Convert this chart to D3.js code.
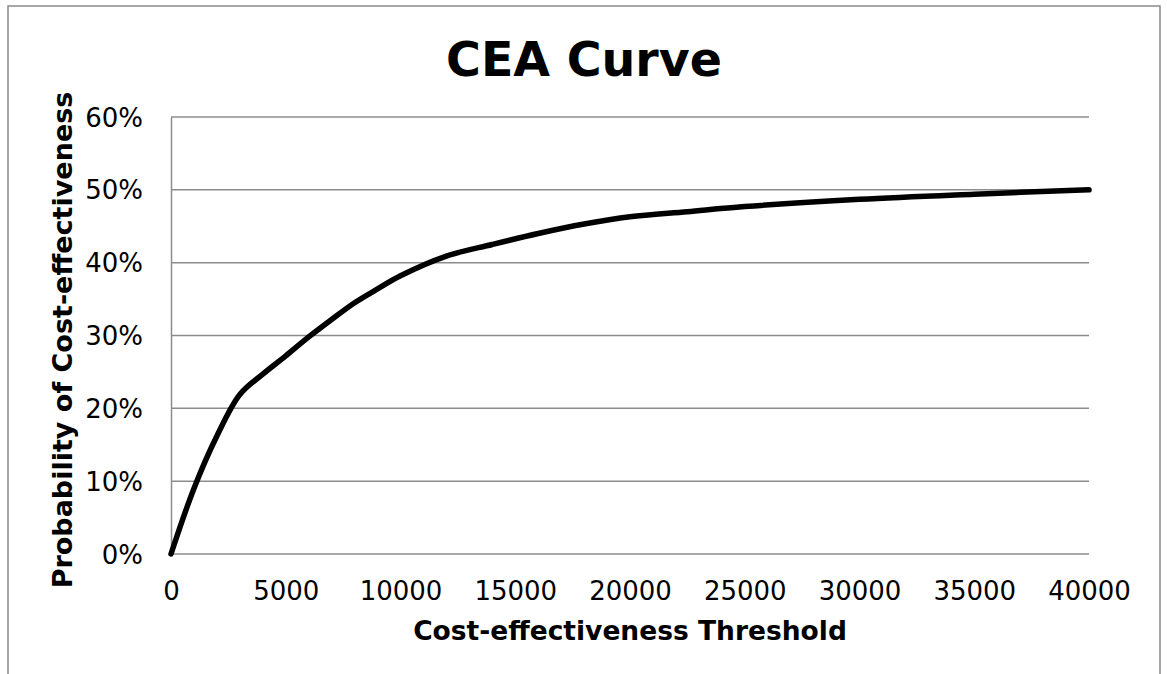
<!DOCTYPE html>
<html>
<head>
<meta charset="utf-8">
<script src="https://cdn.jsdelivr.net/npm/d3@7"></script>
<style>
  body { margin: 0; background: #fff; }
  text { font-family: "DejaVu Sans", Verdana, sans-serif; fill: #000; }
</style>
</head>
<body>
<script>
// threshold values (x) and probability of cost-effectiveness (y, %)
var thresholds = [0, 1000, 2000, 3000, 4000, 5000, 6000, 7000, 8000, 9000, 10000,
                  12000, 14000, 16000, 18000, 20000, 22500, 25000, 30000, 35000, 40000];
var probs = [0, 9.0, 16.2, 21.9, 24.7, 27.2, 29.8, 32.2, 34.5, 36.4, 38.2,
             40.9, 42.5, 44.0, 45.3, 46.3, 47.0, 47.7, 48.7, 49.4, 50.0];
var xTicks = [0, 5000, 10000, 15000, 20000, 25000, 30000, 35000, 40000];
var yTicks = [0, 10, 20, 30, 40, 50, 60];

var W = 1167, H = 674,
    margin = {top: 117, right: 78, bottom: 120, left: 171},
    width = 1089 - margin.left,
    height = 554 - margin.top;

var svg = d3.select("body").append("svg")
    .attr("width", W)
    .attr("height", H);

// outer chart border (bottom runs off the page)
svg.append("rect")
    .attr("x", 8).attr("y", 6)
    .attr("width", 1152).attr("height", 700)
    .attr("fill", "none")
    .attr("stroke", "#8a8a8a")
    .attr("stroke-width", 1.5);

var x = d3.scaleLinear().domain([0, 40000]).range([margin.left, margin.left + width]);
var y = d3.scaleLinear().domain([0, 60]).range([margin.top + height, margin.top]);

// gridlines
svg.append("g")
  .selectAll("line")
  .data(yTicks)
  .enter().append("line")
    .attr("x1", x(0)).attr("x2", x(40000))
    .attr("y1", function(d) { return y(d); })
    .attr("y2", function(d) { return y(d); })
    .attr("stroke", "#8c8c8c")
    .attr("stroke-width", 1.5);

// y axis
var yAxis = d3.axisLeft(y).tickValues(yTicks)
    .tickFormat(function(d) { return d + "%"; })
    .tickSize(0).tickPadding(28);
var gY = svg.append("g")
    .attr("transform", "translate(" + margin.left + ",0)")
    .call(yAxis);
gY.select(".domain").attr("stroke", "#8c8c8c").attr("stroke-width", 1.5);
gY.selectAll("text").style("font-size", "26px").attr("dy", "0.35em");

// x axis
var xAxis = d3.axisBottom(x).tickValues(xTicks)
    .tickFormat(function(d) { return d; })
    .tickSize(0).tickPadding(0);
var gX = svg.append("g")
    .attr("transform", "translate(0," + (margin.top + height) + ")")
    .call(xAxis);
gX.select(".domain").remove();
gX.selectAll("text").style("font-size", "26px").attr("dy", null).attr("y", 46);

// curve
var line = d3.line()
    .x(function(d, i) { return x(thresholds[i]); })
    .y(function(d) { return y(d); })
    .curve(d3.curveCatmullRom.alpha(0.5));

svg.append("path")
    .datum(probs)
    .attr("d", line)
    .attr("fill", "none")
    .attr("stroke", "#000")
    .attr("stroke-width", 5.5)
    .attr("stroke-linecap", "round")
    .attr("stroke-linejoin", "round");

// title
svg.append("text")
    .attr("x", 584)
    .attr("y", 76)
    .style("text-anchor", "middle")
    .style("font-size", "47.5px")
    .style("font-weight", "bold")
    .text("CEA Curve");

// axis labels
svg.append("text")
    .attr("x", margin.left + width / 2)
    .attr("y", 640)
    .style("text-anchor", "middle")
    .style("font-size", "26.5px")
    .style("font-weight", "bold")
    .text("Cost-effectiveness Threshold");
svg.append("text")
    .attr("transform", "rotate(-90)")
    .attr("x", -340)
    .attr("y", 72)
    .style("text-anchor", "middle")
    .style("font-size", "27px")
    .style("font-weight", "bold")
    .text("Probability of Cost-effectiveness");
</script>
</body>
</html>
